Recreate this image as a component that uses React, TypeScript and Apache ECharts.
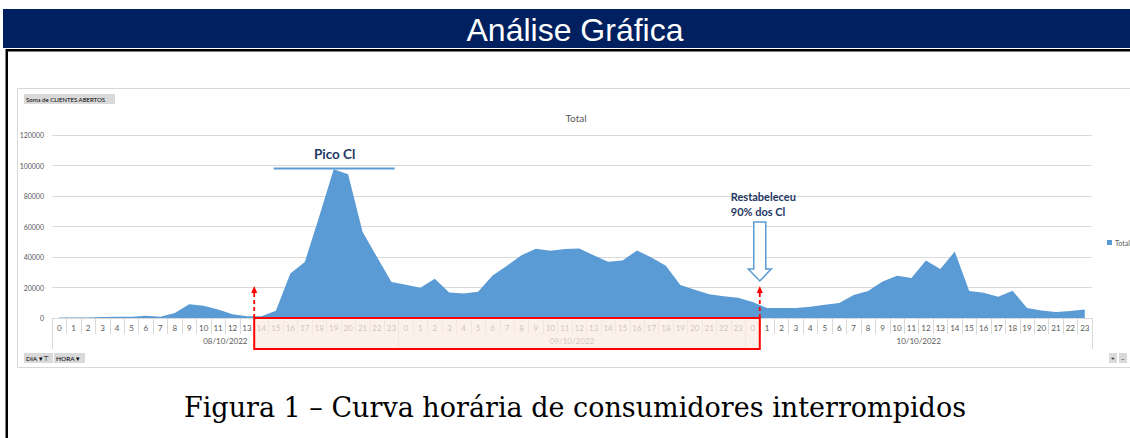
import React, { useEffect, useRef } from "react";
import * as echarts from "echarts";

const dates = ["08/10/2022", "09/10/2022", "10/10/2022"];
const hourLabels = ["0","1","2","3","4","5","6","7","8","9","10","11","12","13","14","15","16","17","18","19","20","21","22","23"];
const day1Values = [300,300,400,700,900,900,1500,900,3300,9000,8100,5500,2400,1100,1100,4800,29200,36700,66500,97500,94300,56500,40000,23600];
const day2Values = [21800,19900,25700,16800,16100,17200,27900,34300,41200,45400,44100,45200,45600,41200,36900,37700,44300,39700,34300,21600,18500,15500,14200,13300];
const day3Values = [10500,6500,6500,6500,7400,8700,9800,15100,17700,24000,27700,26200,37700,32100,43600,17700,16600,14000,17900,6500,5000,3900,4600,5500];
const yTicks = { min: 0, max: 120000, interval: 20000 };

const categories = dates.flatMap((d) => hourLabels.map((h) => d + "|" + h));
const values = [...day1Values, ...day2Values, ...day3Values];

const XL_FONT = "Lato, 'Liberation Sans', sans-serif";
const AXIS_GRAY = "#595959";
const GRID_GRAY = "#D9D9D9";
const BLUE = "#5B9BD5";
const NAVY_TEXT = "#1F3864";

export default function App() {
  const ref = useRef<HTMLDivElement>(null);

  useEffect(() => {
    if (!ref.current) return;
    const chart = echarts.init(ref.current, null, { renderer: "svg" });
    chart.setOption({
      animation: false,
      grid: { left: 52, right: 38, top: 135, bottom: 120, containLabel: false },
      legend: {
        data: ["Total"],
        left: 1102,
        top: 234,
        icon: "rect",
        itemWidth: 5,
        itemHeight: 5,
        itemGap: 2,
        textStyle: { fontSize: 7, color: AXIS_GRAY, fontFamily: XL_FONT, padding: [0, 0, 0, -2] },
      },
      xAxis: [
        {
          type: "category",
          data: categories,
          boundaryGap: true,
          axisLine: { lineStyle: { color: GRID_GRAY, width: 1 } },
          axisTick: { show: true, interval: 0, length: 16, lineStyle: { color: GRID_GRAY } },
          axisLabel: {
            interval: 0,
            margin: 6,
            fontSize: 8,
            color: AXIS_GRAY,
            fontFamily: XL_FONT,
            formatter: (v: string) => v.split("|")[1],
          },
          splitLine: { show: false },
        },
        {
          type: "category",
          data: dates,
          position: "bottom",
          boundaryGap: true,
          axisLine: { show: false },
          axisTick: { show: true, interval: 0, length: 31, lineStyle: { color: GRID_GRAY } },
          axisLabel: { interval: 0, margin: 19, fontSize: 8, color: AXIS_GRAY, fontFamily: XL_FONT },
          splitLine: { show: false },
        },
      ],
      yAxis: {
        type: "value",
        min: yTicks.min,
        max: yTicks.max,
        interval: yTicks.interval,
        axisLine: { show: false },
        axisTick: { show: false },
        axisLabel: {
          fontSize: 7,
          color: AXIS_GRAY,
          fontFamily: XL_FONT,
          margin: 8,
          formatter: (v: number) => String(v),
        },
        splitLine: { lineStyle: { color: GRID_GRAY, width: 1 } },
      },
      series: [
        {
          name: "Total",
          type: "line",
          xAxisIndex: 0,
          data: values,
          symbol: "none",
          lineStyle: { width: 0, color: BLUE },
          itemStyle: { color: BLUE },
          areaStyle: { color: BLUE, opacity: 1 },
          z: 2,
        },
      ],
    });

    const px = (i: number) => chart.convertToPixel({ xAxisIndex: 0 }, i) as number;
    const py = (v: number) => chart.convertToPixel({ yAxisIndex: 0 }, v) as number;
    const band = px(1) - px(0);
    const b1 = px(13) + band / 2;
    const b2 = px(48) + band / 2;
    const y0 = py(0);
    const peakX = px(19);
    const peakY = py(98000);

    const redArrow = (x: number, id: string) => [
      {
        type: "line",
        id: id + "l",
        z: 120,
        shape: { x1: x, y1: y0, x2: x, y2: y0 - 27 },
        style: { stroke: "#FF0000", lineWidth: 1.8, lineDash: [4, 3] },
      },
      {
        type: "polygon",
        id: id + "h",
        z: 120,
        shape: { points: [[x - 3, y0 - 25], [x + 3, y0 - 25], [x, y0 - 32]] },
        style: { fill: "#FF0000" },
      },
    ];

    const btn = (x: number, w: number, label: string, id: string) => [
      { type: "rect", id: id + "r", z: 50, shape: { x, y: 353, width: w, height: 10 }, style: { fill: "#D9D9D9" } },
      {
        type: "text",
        id: id + "t",
        z: 51,
        style: { text: label, x: x + 2, y: 358, fontSize: 6.5, fontFamily: XL_FONT, fill: "#000", verticalAlign: "middle" },
      },
    ];

    chart.setOption({
      graphic: [
        { type: "rect", id: "navy", z: 10, shape: { x: 3, y: 9, width: 1127, height: 39 }, style: { fill: "#00205F" } },
        {
          type: "text",
          id: "head",
          z: 11,
          style: {
            text: "Análise Gráfica",
            x: 575,
            y: 30,
            fontSize: 32,
            fontFamily: "'Liberation Sans', Arial, sans-serif",
            fill: "#FFFFFF",
            align: "center",
            verticalAlign: "middle",
          },
        },
        { type: "rect", id: "blackH", z: 10, shape: { x: 6, y: 49, width: 1124, height: 2.5 }, style: { fill: "#000" } },
        { type: "rect", id: "blackV", z: 10, shape: { x: 5.5, y: 49, width: 2.5, height: 389 }, style: { fill: "#000" } },
        {
          type: "rect",
          id: "box",
          z: -1,
          shape: { x: 17.5, y: 88.5, width: 1130, height: 279 },
          style: { fill: "none", stroke: GRID_GRAY, lineWidth: 1 },
        },
        { type: "rect", id: "somaR", z: 50, shape: { x: 24, y: 94, width: 91, height: 10 }, style: { fill: "#D9D9D9" } },
        {
          type: "text",
          id: "somaT",
          z: 51,
          style: { text: "Soma de CLIENTES ABERTOS", x: 26, y: 99, fontSize: 6, fontFamily: XL_FONT, fill: "#000", verticalAlign: "middle" },
        },
        {
          type: "text",
          id: "title",
          z: 50,
          style: { text: "Total", x: 576, y: 118, fontSize: 10, fontFamily: XL_FONT, fill: AXIS_GRAY, align: "center", verticalAlign: "middle" },
        },
        {
          type: "text",
          id: "pico",
          z: 60,
          style: { text: "Pico Cl", x: peakX + 1, y: 154, fontSize: 13.5, fontWeight: "bold", fontFamily: XL_FONT, fill: NAVY_TEXT, align: "center", verticalAlign: "middle" },
        },
        {
          type: "line",
          id: "picoLine",
          z: 60,
          shape: { x1: peakX - 60, y1: peakY, x2: peakX + 61, y2: peakY },
          style: { stroke: BLUE, lineWidth: 2 },
        },
        {
          type: "text",
          id: "rest1",
          z: 60,
          style: { text: "Restabeleceu", x: b2 - 29, y: 196, fontSize: 11, fontWeight: "bold", fontFamily: XL_FONT, fill: NAVY_TEXT, verticalAlign: "middle" },
        },
        {
          type: "text",
          id: "rest2",
          z: 60,
          style: { text: "90% dos Cl", x: b2 - 29, y: 211, fontSize: 11, fontWeight: "bold", fontFamily: XL_FONT, fill: NAVY_TEXT, verticalAlign: "middle" },
        },
        {
          type: "polygon",
          id: "hollow",
          z: 60,
          shape: {
            points: [
              [b2 - 6, 222], [b2 + 6, 222], [b2 + 6, 269], [b2 + 11.5, 269],
              [b2, 281], [b2 - 11.5, 269], [b2 - 6, 269],
            ],
          },
          style: { fill: "#FFFFFF", stroke: BLUE, lineWidth: 1.5 },
        },
        ...redArrow(b1, "ra1"),
        ...redArrow(b2, "ra2"),
        {
          type: "rect",
          id: "redBox",
          z: 110,
          shape: { x: b1, y: y0, width: b2 - b1, height: 31 },
          style: { fill: "rgba(251,236,226,0.72)", stroke: "#FF0000", lineWidth: 2 },
        },
        ...btn(24, 29, "DIA ▾⊤", "dia"),
        ...btn(54, 31, "HORA ▾", "hora"),
        ...btn(1109, 8, "+", "plus"),
        ...btn(1119, 8, "−", "minus"),
        {
          type: "text",
          id: "caption",
          z: 50,
          style: {
            text: "Figura 1 – Curva horária de consumidores interrompidos",
            x: 575,
            y: 407,
            fontSize: 27,
            fontFamily: "'DejaVu Serif', serif",
            fill: "#000",
            align: "center",
            verticalAlign: "middle",
          },
        },
      ],
    });

    return () => chart.dispose();
  }, []);

  return (
    <div
      ref={ref}
      style={{ position: "fixed", left: 0, top: 0, width: 1130, height: 438, background: "#fff" }}
    />
  );
}
